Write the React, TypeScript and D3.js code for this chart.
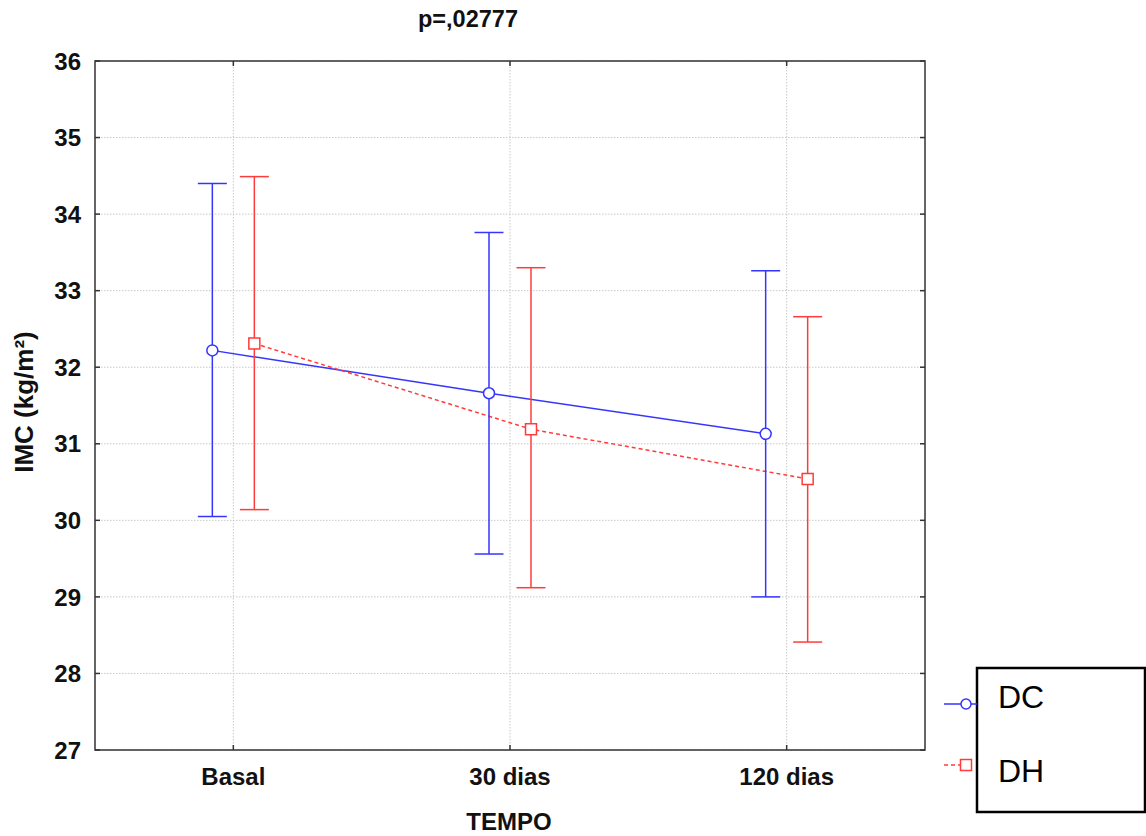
import React from "react";
import * as d3 from "d3";

const categories = ["Basal", "30 dias", "120 dias"];
const dcMean = [32.22, 31.66, 31.13];
const dcLower = [30.05, 29.56, 29.0];
const dcUpper = [34.4, 33.76, 33.26];
const dhMean = [32.31, 31.19, 30.54];
const dhLower = [30.14, 29.12, 28.41];
const dhUpper = [34.49, 33.3, 32.66];
const yTicks = [27, 28, 29, 30, 31, 32, 33, 34, 35, 36];
const seriesNames = ["DC", "DH"];
const title = "p=,02777";
const xTitle = "TEMPO";
const yTitle = "IMC (kg/m²)";

const W = 1146;
const H = 836;
const M = { left: 95, right: 925, top: 61, bottom: 750 };
const BLUE = "#3535ff";
const RED = "#ff3c3c";
const FONT = "'Liberation Sans', Arial, sans-serif";

export default function App() {
  const x = d3.scaleBand<string>().domain(categories).range([M.left, M.right]).padding(0);
  const y = d3.scaleLinear().domain([27, 36]).range([M.bottom, M.top]);
  const cx = (c: string) => (x(c) as number) + x.bandwidth() / 2;
  const off = 21;
  const capW = 14.5;

  const series = [
    { name: seriesNames[0], mean: dcMean, lo: dcLower, hi: dcUpper, color: BLUE, dx: -off, dash: undefined as string | undefined, marker: "circle" },
    { name: seriesNames[1], mean: dhMean, lo: dhLower, hi: dhUpper, color: RED, dx: off, dash: "4,3", marker: "square" },
  ];

  const line = d3
    .line<number>()
    .x((_, i) => cx(categories[i]))
    .y((d) => y(d));

  const tick = 5;

  return (
    <svg width={W} height={H} style={{ position: "absolute", left: 0, top: 0, background: "#fff" }} fontFamily={FONT}>
      <rect x={0} y={0} width={W} height={H} fill="#fff" />
      {/* grid */}
      {yTicks.map((t) => (
        <line key={"gy" + t} x1={M.left} x2={M.right} y1={y(t)} y2={y(t)} stroke="#c8c8c8" strokeWidth={1} strokeDasharray="1.5,1.5" />
      ))}
      {categories.map((c) => (
        <line key={"gx" + c} x1={cx(c)} x2={cx(c)} y1={M.top} y2={M.bottom} stroke="#c8c8c8" strokeWidth={1} strokeDasharray="1.5,1.5" />
      ))}
      {/* series lines */}
      {series.map((s) => (
        <path
          key={"l" + s.name}
          d={line.x((_, i) => cx(categories[i]) + s.dx)(s.mean) || ""}
          fill="none"
          stroke={s.color}
          strokeWidth={1.5}
          strokeDasharray={s.dash}
        />
      ))}
      {/* error bars */}
      {series.map((s) =>
        categories.map((c, i) => {
          const px = cx(c) + s.dx;
          return (
            <g key={"e" + s.name + c} stroke={s.color} strokeWidth={1.5}>
              <line x1={px} x2={px} y1={y(s.hi[i])} y2={y(s.lo[i])} />
              <line x1={px - capW} x2={px + capW} y1={y(s.hi[i])} y2={y(s.hi[i])} />
              <line x1={px - capW} x2={px + capW} y1={y(s.lo[i])} y2={y(s.lo[i])} />
            </g>
          );
        })
      )}
      {/* markers */}
      {series.map((s) =>
        categories.map((c, i) => {
          const px = cx(c) + s.dx;
          const py = y(s.mean[i]);
          return s.marker === "circle" ? (
            <circle key={"m" + s.name + c} cx={px} cy={py} r={5.5} fill="#fff" stroke={s.color} strokeWidth={1.5} />
          ) : (
            <rect key={"m" + s.name + c} x={px - 5.5} y={py - 5.5} width={11} height={11} fill="#fff" stroke={s.color} strokeWidth={1.5} />
          );
        })
      )}
      {/* frame */}
      <rect x={M.left} y={M.top} width={M.right - M.left} height={M.bottom - M.top} fill="none" stroke="#333" strokeWidth={1.5} />
      {/* ticks inward */}
      {yTicks.map((t) => (
        <g key={"ty" + t} stroke="#333" strokeWidth={1.5}>
          <line x1={M.left} x2={M.left + tick} y1={y(t)} y2={y(t)} />
          <line x1={M.right} x2={M.right - tick} y1={y(t)} y2={y(t)} />
        </g>
      ))}
      {categories.map((c) => (
        <g key={"tx" + c} stroke="#333" strokeWidth={1.5}>
          <line x1={cx(c)} x2={cx(c)} y1={M.bottom} y2={M.bottom - tick} />
          <line x1={cx(c)} x2={cx(c)} y1={M.top} y2={M.top + tick} />
        </g>
      ))}
      {/* tick labels */}
      {yTicks.map((t) => (
        <text key={"yl" + t} x={81} y={y(t)} dy="0.36em" textAnchor="end" fontSize={24} fontWeight="bold" fill="#111">
          {t}
        </text>
      ))}
      {categories.map((c) => (
        <text key={"xl" + c} x={cx(c)} y={785} textAnchor="middle" fontSize={24} fontWeight="bold" fill="#111">
          {c}
        </text>
      ))}
      {/* titles */}
      <text x={509} y={830} textAnchor="middle" fontSize={24} fontWeight="bold" fill="#111">
        {xTitle}
      </text>
      <text transform="translate(33,402) rotate(-90)" textAnchor="middle" fontSize={26} fontWeight="bold" fill="#111">
        {yTitle}
      </text>
      <text x={468} y={27} textAnchor="middle" fontSize={23.5} fontWeight="bold" fill="#111">
        {title}
      </text>
      {/* legend */}
      <rect x={977} y={668} width={168} height={144} fill="#fff" stroke="#000" strokeWidth={2.5} />
      <line x1={944} x2={977} y1={704} y2={704} stroke={BLUE} strokeWidth={1.5} />
      <circle cx={966} cy={704} r={5} fill="#fff" stroke={BLUE} strokeWidth={1.5} />
      <line x1={944} x2={961} y1={765} y2={765} stroke={RED} strokeWidth={1.5} strokeDasharray="4,3" />
      <rect x={960.5} y={759.5} width={11} height={11} fill="#fff" stroke={RED} strokeWidth={1.5} />
      <text x={998} y={708} fontSize={32} fill="#000">
        {seriesNames[0]}
      </text>
      <text x={998} y={782} fontSize={32} fill="#000">
        {seriesNames[1]}
      </text>
    </svg>
  );
}
